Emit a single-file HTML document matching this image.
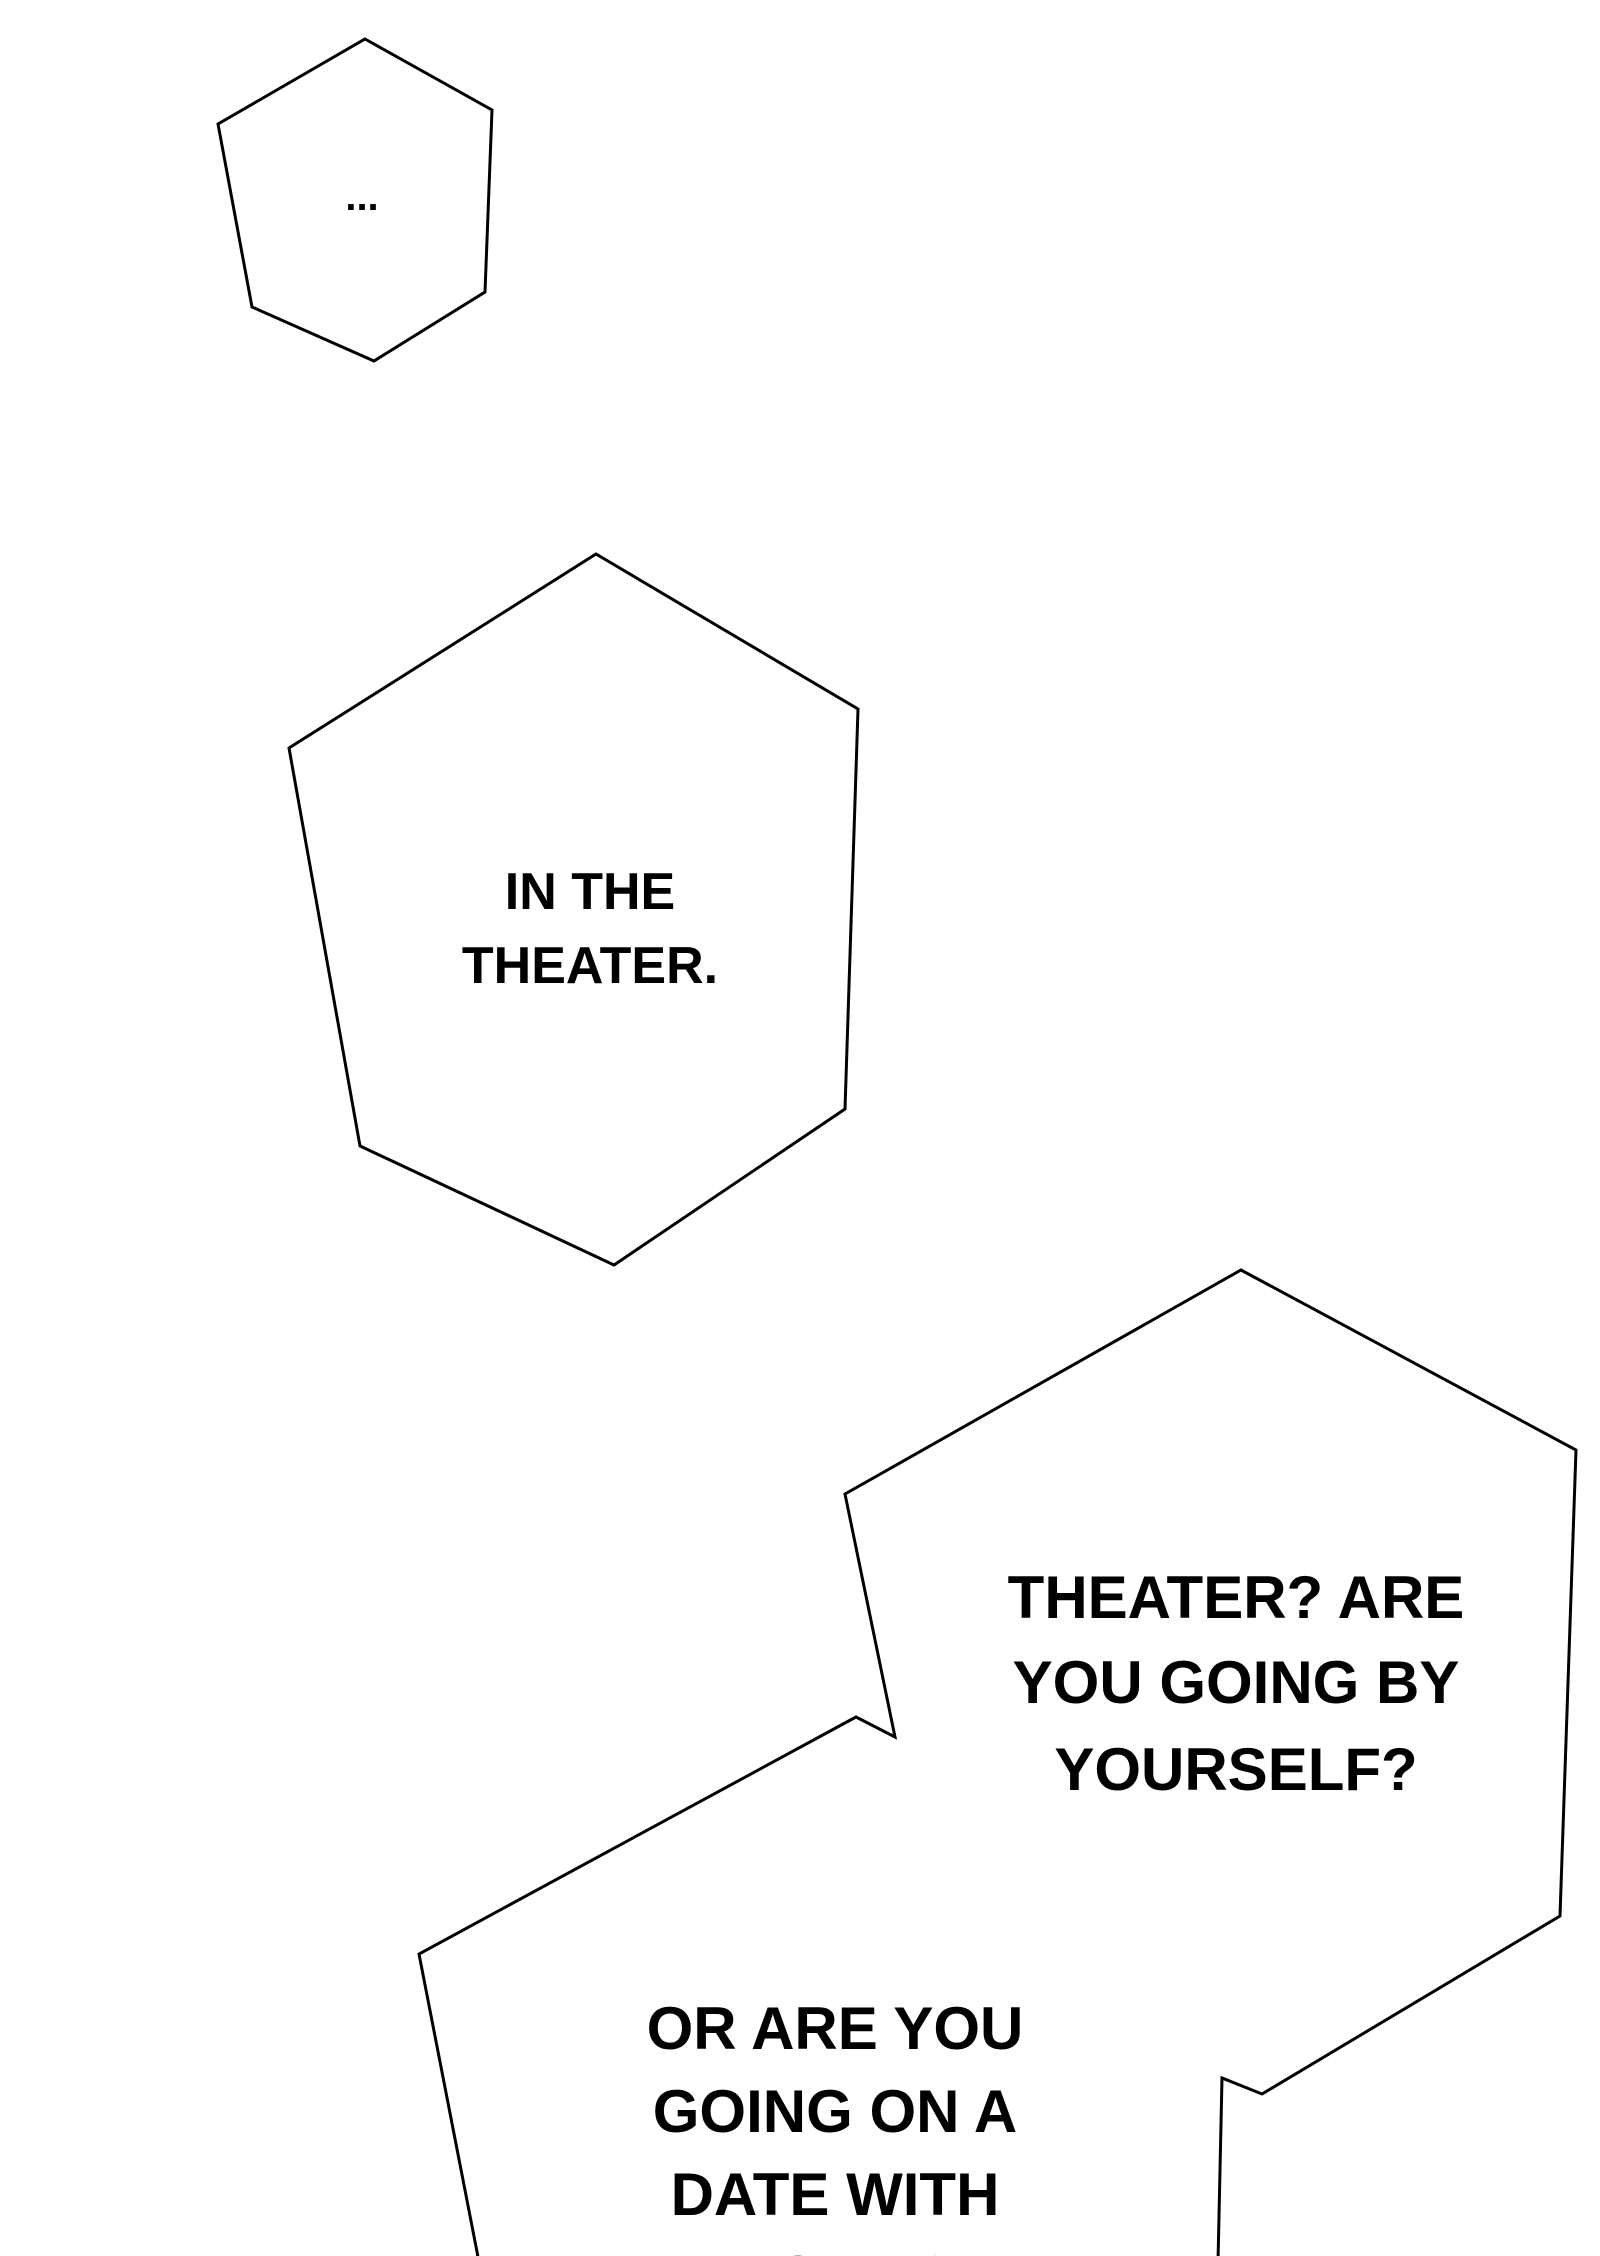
<!DOCTYPE html>
<html><head><meta charset="utf-8"><style>
html,body{margin:0;padding:0;background:#fff;}
svg{display:block;}
text{font-family:"Liberation Sans",sans-serif;font-weight:bold;fill:#000;}
</style></head><body>
<svg width="1600" height="2256" viewBox="0 0 1600 2256" xmlns="http://www.w3.org/2000/svg">
<rect width="1600" height="2256" fill="#fff"/>
<g fill="#fff" stroke="#000" stroke-width="3" stroke-linejoin="miter">
<polygon points="365,39 492,110 485,292 374,361 252,307 218,124"/>
<polygon points="596,554 858,709 845,1109 614,1265 360,1146 289,748"/>
<polygon points="1241,1270 1576,1450 1560,1916 1262,2094 1222,2078 1218,2262 479,2262 419,1954 856,1717 895,1737 845,1494"/>
</g>
<text x="362" y="210" font-size="40" text-anchor="middle">...</text>
<g font-size="52" text-anchor="middle">
<text x="590" y="909">IN THE</text>
<text x="590" y="983">THEATER.</text>
</g>
<g font-size="60" text-anchor="middle">
<text x="1236" y="1618">THEATER? ARE</text>
<text x="1236" y="1703">YOU GOING BY</text>
<text x="1236" y="1790">YOURSELF?</text>
<text x="835" y="2049">OR ARE YOU</text>
<text x="835" y="2132">GOING ON A</text>
<text x="835" y="2215">DATE WITH</text>
<text x="835" y="2298">A GIRL?</text>
</g>
</svg>
</body></html>
